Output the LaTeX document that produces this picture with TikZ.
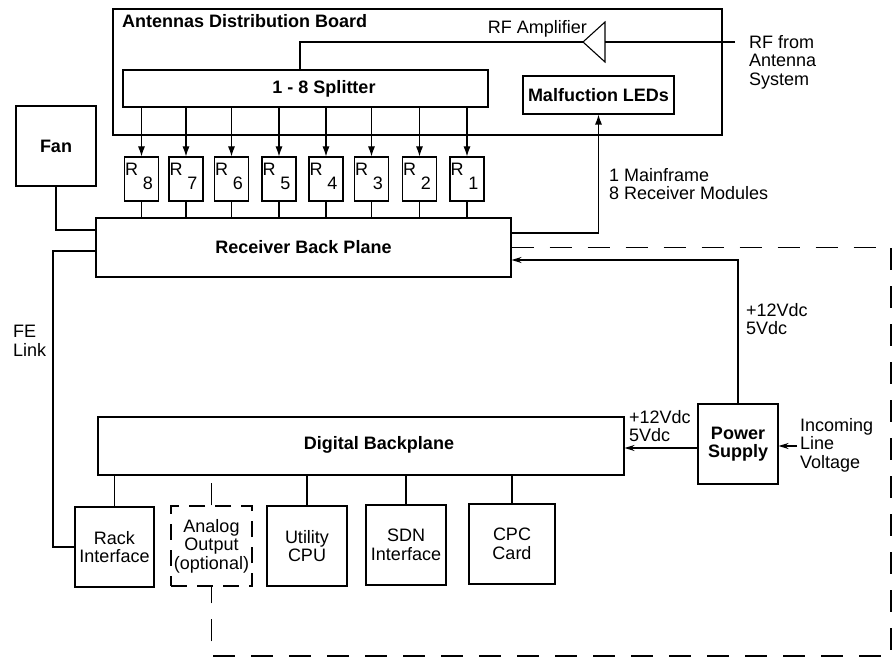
\documentclass[tikz,border=0pt]{standalone}
\usepackage{fontspec}
\setmainfont{Liberation Sans}
\usetikzlibrary{arrows.meta}
\newcommand\lbfont{\fontsize{18}{18.5}\selectfont}
\tikzset{
  box/.style={draw, line width=1.1pt, inner sep=0pt, font=\lbfont, align=center},
  bbox/.style={box, font=\lbfont\bfseries},
  lbl/.style={inner sep=0pt, font=\lbfont, align=left},
  blbl/.style={inner sep=0pt, font=\lbfont\bfseries, align=center},
  wire/.style={line width=1.1pt},
  sarr/.style={wire, -{Latex[length=10pt,width=7pt]}},
  parr/.style={wire, -{Stealth[length=10pt,width=6pt]}},
  dline/.style={wire, dash pattern=on 22pt off 16pt},
}
\begin{document}
\begin{tikzpicture}[x=1pt,y=-1pt]
\useasboundingbox (0,0) rectangle (895,660);

% Antennas distribution board
\node[box, minimum width=609, minimum height=126] (adb) at (417.5,72) {};
\node[blbl, anchor=base west] (adbt) at (122,28) {Antennas Distribution Board};
\node[box, minimum width=365, minimum height=37] (splitter) at (305.5,88.5) {};
\node[blbl] (spt) at (324,88.5) {1 - 8 Splitter};
\node[bbox, minimum width=151, minimum height=38] (mled) at (598.5,95) {Malfuction LEDs};

% RF amplifier
\coordinate (amptip) at (583,42);
\coordinate (ampin) at (605,42);
\coordinate (spk) at (300,42);
\coordinate (rfin) at (735,42);
\draw[wire, line join=miter] (amptip) -- (605,22) -- (605,62) -- cycle;
\node[lbl, anchor=base east] (ampt) at (587,34) {RF Amplifier};
\draw[wire] (amptip) -- (spk) -- (spk |- splitter.north);
\draw[wire] (rfin) -- (ampin);
\node[lbl, anchor=west] (rft) at (749,62) {RF from\\Antenna\\System};

% Fan and receiver back plane
\node[bbox, minimum width=80, minimum height=80] (fan) at (56,146) {Fan};
\node[bbox, minimum width=415, minimum height=59] (rbp) at (303.5,247.5) {Receiver Back Plane};

% Receiver modules
\foreach \n/\cx in {8/141.5,7/186,6/231.5,5/279,4/326,3/371.5,2/419.5,1/467}{
  \node[box, minimum width=34, minimum height=44] (r\n) at (\cx,179) {};
  \node[lbl] (rr\n) at ([xshift=-10pt,yshift=10pt]r\n.center) {R};
  \node[lbl] (rn\n) at ([xshift=6.5pt,yshift=-4pt]r\n.center) {\n};
  \draw[sarr] (r\n.north |- splitter.south) -- (r\n.north);
  \draw[wire] (r\n.south) -- (r\n.south |- rbp.north);
}

\draw[sarr] ([yshift=14.5pt]rbp.east) -| (mled.south);
\node[lbl, anchor=west] (mft) at (609,184) {1 Mainframe\\ 8 Receiver Modules};

% Fan and FE link wires
\coordinate (fex) at (53,0);
\draw[wire] (fan.south) |- ([yshift=17.5pt]rbp.west);

% Digital backplane and cards
\node[box, minimum width=526, minimum height=58] (db) at (361,446) {};
\node[blbl] (dbt) at (379,445) {Digital Backplane};
\node[bbox, minimum width=80, minimum height=80] (ps) at (738,444) {Power\\Supply};

\node[box, minimum width=79, minimum height=80] (rack) at (114.5,547) {Rack\\Interface};
\node[box, dashed, dash pattern=on 16pt off 10pt, minimum width=81, minimum height=80] (analog) at (211.5,546) {Analog\\Output\\(optional)};
\node[box, minimum width=80, minimum height=80] (util) at (307,546) {Utility\\CPU};
\node[box, minimum width=80, minimum height=80] (sdn) at (406,545) {SDN\\Interface};
\node[box, minimum width=86, minimum height=80] (cpc) at (512,544) {CPC\\Card};

\foreach \b in {rack,util,sdn,cpc}{
  \draw[wire] (\b.north) -- (\b.north |- db.south);
}
\draw[dline] (analog.north) -- (analog.north |- db.south);

\draw[wire] ([yshift=-3.5pt]rbp.west) -| (fex |- rack.west) -- (rack.west);
\node[lbl, anchor=west] (fet) at (13,341) {FE\\Link};

% Power wiring
\draw[parr] (ps.north) |- ([yshift=-12.5pt]rbp.east);
\node[lbl, anchor=west] (pv1) at (746,319) {+12Vdc\\5Vdc};
\draw[parr] ([yshift=-4pt]ps.west) -- ([yshift=-4pt]ps.west -| db.east);
\node[lbl, anchor=west] (pv2) at (629,426) {+12Vdc\\5Vdc};
\coordinate (inc) at (797,446);
\draw[parr] (inc) -- (inc -| ps.east);
\node[lbl, anchor=west] (inct) at (800,445) {Incoming\\Line\\Voltage};

% Dashed optional link
\coordinate (dtr) at (891,247.5);
\coordinate (dbr) at (891,656);
\coordinate (dbl) at (211.5,656);
\draw[dline] (rbp.east) -- (dtr) -- (dbr) -- (dbl) -- (analog.south);
\end{tikzpicture}
\end{document}
